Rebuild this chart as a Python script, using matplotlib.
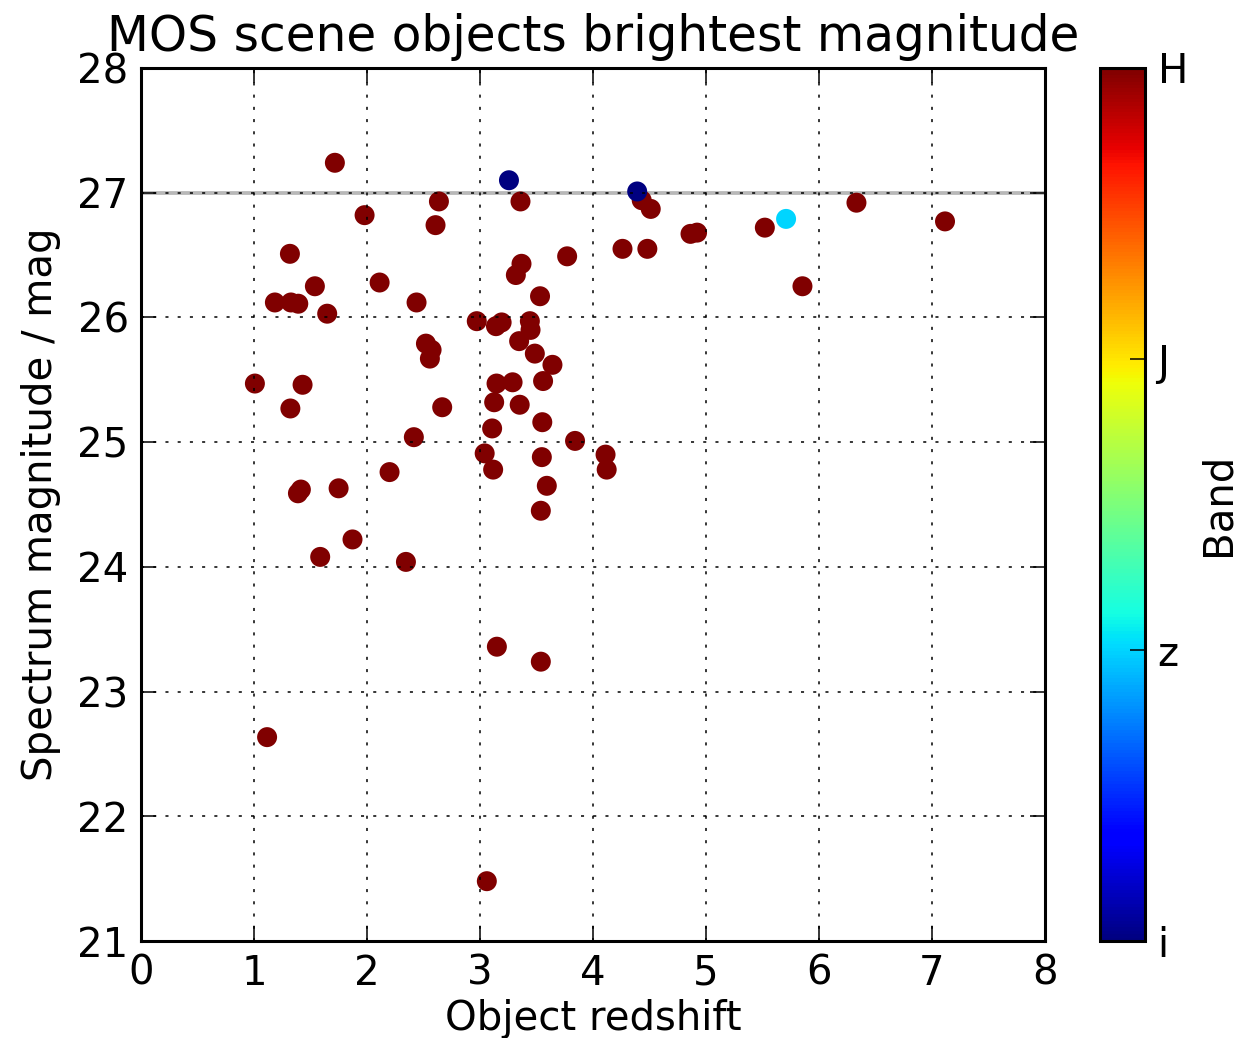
import matplotlib
matplotlib.use("Agg")
import matplotlib.pyplot as plt
import numpy as np

# Brightest magnitude per object, grouped by the band it was measured in
band_names = ["i", "z", "J", "H"]

redshift_H = [1.714, 1.977, 1.316, 1.537, 2.110, 1.183, 1.325, 1.390, 2.437, 1.646,
              2.520, 2.570, 2.555, 1.006, 1.428, 1.320, 2.664, 2.413, 2.198, 1.387,
              1.413, 1.747, 1.870, 1.584, 2.343, 1.114, 2.635, 2.605, 3.059, 3.148,
              3.537, 3.357, 4.430, 4.510, 4.260, 4.480, 3.770, 3.366, 3.316, 3.530,
              2.970, 3.140, 3.190, 3.440, 3.446, 3.345, 3.484, 3.640, 3.145, 3.287,
              3.557, 3.124, 3.350, 3.550, 3.106, 3.840, 3.040, 3.115, 3.546, 4.110,
              4.120, 3.590, 3.537, 4.862, 4.920, 5.520, 5.853, 6.331, 7.115]
mag_H = [27.24, 26.82, 26.51, 26.25, 26.28, 26.12, 26.12, 26.11, 26.12, 26.03,
         25.79, 25.74, 25.67, 25.47, 25.46, 25.27, 25.28, 25.04, 24.76, 24.59,
         24.62, 24.63, 24.22, 24.08, 24.04, 22.635, 26.93, 26.74, 21.48, 23.36,
         23.24, 26.93, 26.94, 26.87, 26.55, 26.55, 26.49, 26.43, 26.34, 26.17,
         25.97, 25.93, 25.96, 25.97, 25.90, 25.81, 25.71, 25.62, 25.47, 25.48,
         25.49, 25.32, 25.30, 25.16, 25.11, 25.01, 24.91, 24.78, 24.88, 24.90,
         24.78, 24.65, 24.45, 26.67, 26.68, 26.72, 26.25, 26.92, 26.77]

redshift_i = [3.255, 4.390]
mag_i = [27.10, 27.01]

redshift_z = [5.708]
mag_z = [26.79]

limit_mag = 27.0

x = redshift_H + redshift_i + redshift_z
y = mag_H + mag_i + mag_z
band = [3] * len(redshift_H) + [0] * len(redshift_i) + [1] * len(redshift_z)

FS = 29
plt.rcParams["font.family"] = ["DejaVu Sans"]

fig = plt.figure(figsize=(12.5, 10.38), dpi=100)
ax = fig.add_axes([0.113, 0.0934, 0.723, 0.8411])
cax = fig.add_axes([0.880, 0.0934, 0.036, 0.8411])

ax.axhline(limit_mag, color="0.72", lw=2.7, zorder=1)
sc = ax.scatter(x, y, c=band, cmap="jet", vmin=0, vmax=3, s=207,
                edgecolors="face", linewidths=0, zorder=2)

ax.set_xlim(0, 8)
ax.set_ylim(21, 28)
ax.set_xticks(np.arange(0, 9, 1))
ax.set_yticks(np.arange(21, 29, 1))
ax.grid(True, color="black", lw=1.1, linestyle=(0, (2, 6)), zorder=3)
ax.set_axisbelow(False)
for sp in ax.spines.values():
    sp.set_linewidth(2.2)
ax.tick_params(direction="in", length=11, width=1.1, labelsize=FS, pad=9,
               top=True, right=True)

ax.set_title("MOS scene objects brightest magnitude", fontsize=35, pad=12)
ax.set_xlabel("Object redshift", fontsize=FS, labelpad=4)
ax.set_ylabel("Spectrum magnitude / mag", fontsize=FS, labelpad=12)

cb = fig.colorbar(sc, cax=cax, ticks=[0, 1, 2, 3])
cb.ax.set_yticklabels(band_names)
cb.outline.set_linewidth(2.2)
cb.ax.tick_params(direction="in", length=11, width=1.1, labelsize=FS, pad=9)
cb.set_label("Band", fontsize=FS, labelpad=8)

fig.savefig("out.png", dpi=100)
